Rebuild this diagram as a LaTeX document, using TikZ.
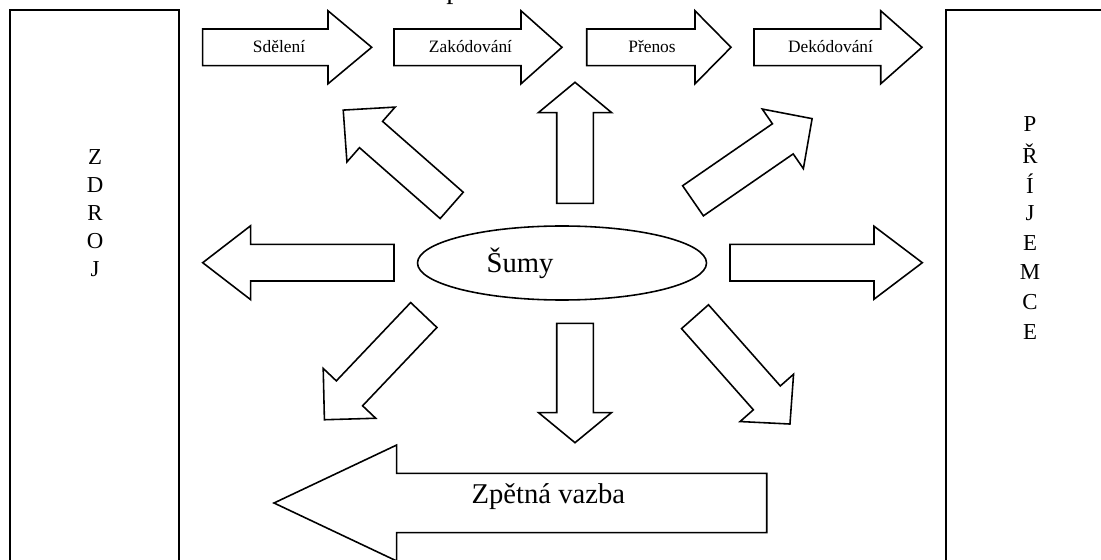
\documentclass[tikz,border=0pt]{standalone}
\usepackage{fontspec}
\setmainfont{Liberation Serif}
\usepackage{tikz}

% fat outline arrow: tail x, tail y, angle, length, shaft half width, head half width, head length
\newcommand{\fatarrow}[7]{%
  \begin{scope}[shift={(#1,#2)}, rotate=#3]
    \draw[arrowline] (0,-#5) -- ({#4-#7},-#5) -- ({#4-#7},-#6) -- (#4,0)
      -- ({#4-#7},#6) -- ({#4-#7},#5) -- (0,#5) -- cycle;
  \end{scope}}

\begin{document}
\begin{tikzpicture}[x=0.02cm, y=-0.02cm,
    arrowline/.style={line width=0.9pt, line join=miter},
    boxline/.style={line width=0.9pt},
    small/.style={font=\fontsize{9.9}{11}\selectfont, inner sep=0pt},
    big/.style={font=\fontsize{16.3}{18}\selectfont, inner sep=0pt},
    letter/.style={font=\fontsize{13}{14}\selectfont, inner sep=0pt}]
    \useasboundingbox (0,0) rectangle (1101,560);

    % side boxes
    \draw[boxline] (10,580) rectangle (179,10);
    \draw[boxline] (946,580) rectangle (1120,10);
    \foreach \l [count=\i from 0] in {Z,D,R,O,J}
        \node[letter] (zdroj\i) at (95,157+28*\i) {\l};
    \foreach \l [count=\i from 0] in {P,Ř,Í,J,E,M,C,E}
        \node[letter] (prijemce\i) at (1030,124+29.7*\i) {\l};

    % cut off text at the top
    \node[big, anchor=base west] (kanal) at (446,-1.3) {p};

    % process arrows
    \fatarrow{202.7}{47.3}{0}{169}{18.3}{36.5}{43.7}
    \fatarrow{394}{47.3}{0}{168}{18.3}{36.5}{41}
    \fatarrow{586.7}{47.3}{0}{144.3}{18.3}{36.5}{36}
    \fatarrow{754}{47.3}{0}{168}{18.3}{36.5}{41.3}
    \node[small] (sdeleni) at (279,47) {Sdělení};
    \node[small] (kodovani) at (470.5,47) {Zakódování};
    \node[small] (prenos) at (652,47) {Přenos};
    \node[small] (dekodovani) at (830.5,47) {Dekódování};

    % noise
    \draw[arrowline] (562,263) ellipse [x radius=144.5, y radius=37];
    \node[big] (sumy) at (520,263) {Šumy};
    \fatarrow{451.7}{205.4}{138.7}{144.4}{17.5}{36.5}{37}
    \fatarrow{575}{203.3}{90}{121}{18.3}{36.7}{30.4}
    \fatarrow{693}{200.8}{34.6}{144.7}{18.3}{36.2}{35.6}
    \fatarrow{394}{262.7}{180}{191.3}{18.3}{37}{48}
    \fatarrow{730}{262.7}{0}{192.3}{18.3}{36.5}{48.3}
    \fatarrow{423.8}{315}{226.5}{144.4}{18.1}{36.2}{36.4}
    \fatarrow{575}{323.3}{270}{119.4}{18.3}{36.4}{30}
    \fatarrow{695}{316.7}{311.5}{143.3}{18}{35.7}{34.9}

    % feedback
    \fatarrow{766.7}{503}{180}{492.7}{29.7}{58}{122.7}
    \node[big] (vazba) at (548.3,496.7) {Zpětná vazba};
\end{tikzpicture}
\end{document}
